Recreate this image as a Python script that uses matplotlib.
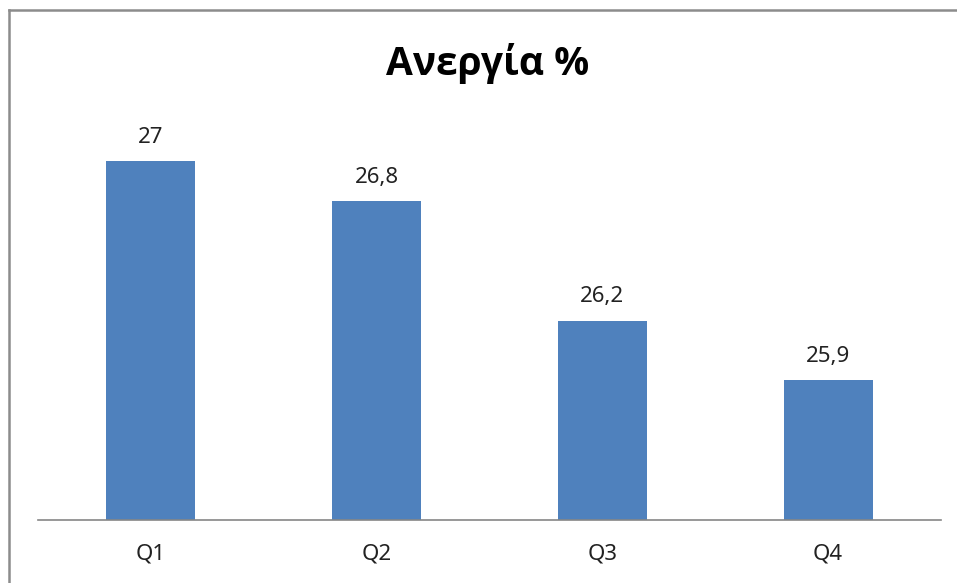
import matplotlib
matplotlib.use('Agg')
import matplotlib.pyplot as plt
from matplotlib.lines import Line2D

# δεδομένα
quarters = ['Q1', 'Q2', 'Q3', 'Q4']
unemployment = [27, 26.8, 26.2, 25.9]
title = 'Ανεργία %'

plt.rcParams['font.family'] = ['Noto Sans', 'DejaVu Sans']

W, H = 957, 583
fig = plt.figure(figsize=(W / 100, H / 100), dpi=100)

# plot area (pixels -> figure fraction)
left, right = 38, 941
base_y, top_y = 520, 121
ax = fig.add_axes([left / W, 1 - base_y / H, (right - left) / W, (base_y - top_y) / H])

x = range(len(quarters))
ax.bar(x, unemployment, width=0.394, color='#4F81BD', zorder=2)
ax.set_xlim(-0.5, len(quarters) - 0.5)
ax.set_ylim(25.2, 27.2)

for xi, v in zip(x, unemployment):
    lbl = f'{v:g}'.replace('.', ',')
    ax.annotate(lbl, (xi, v), xytext=(0, 9.5), textcoords='offset points',
                ha='center', va='bottom', fontsize=16, color='#222222')

for s in ['top', 'right', 'left']:
    ax.spines[s].set_visible(False)
ax.spines['bottom'].set_color('#868686')
ax.spines['bottom'].set_linewidth(1.2)
ax.set_yticks([])
ax.set_xticks(list(x))
ax.set_xticklabels(quarters, fontsize=16, color='#222222')
ax.tick_params(axis='x', length=0, pad=17)

fig.text(488 / W, 1 - 63 / H, title, ha='center', va='center',
         fontsize=28, fontweight='bold', color='black',
         family=['Open Sans', 'DejaVu Sans'])

# outer chart border (only left and top visible in the crop)
bx, by = 8.7 / W, 1 - 10.3 / H
fig.add_artist(Line2D([bx, bx], [0, by], transform=fig.transFigure,
                      color='#8c8c8c', linewidth=1.8))
fig.add_artist(Line2D([bx, 1], [by, by], transform=fig.transFigure,
                      color='#8c8c8c', linewidth=1.8))

fig.savefig('out.png', dpi=100)
